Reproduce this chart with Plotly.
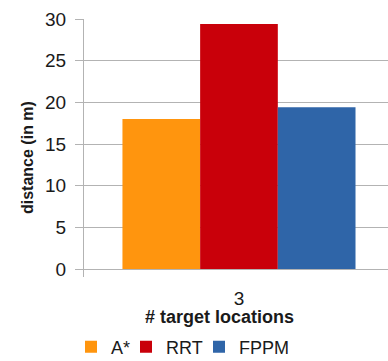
import plotly.graph_objects as go

categories = ["3"]
series_names = ["A*", "RRT", "FPPM"]
a_star = [18.0]
rrt = [29.4]
fppm = [19.4]
y_ticks = [0, 5, 10, 15, 20, 25, 30]

colors = ["#FF950E", "#C9000A", "#2F65A8"]
legend_ids = ["legend", "legend2", "legend3"]
legend_left_px = [71, 126, 199]

W, H = 388, 361
fig = go.Figure()
for name, vals, c, lg in zip(series_names, [a_star, rrt, fppm], colors, legend_ids):
    fig.add_trace(go.Bar(x=categories, y=vals, name=name, legend=lg,
                         marker=dict(color=c, line=dict(width=0))))

legend_common = dict(xref="container", yref="container", xanchor="left",
                     y=(H - 347) / H, yanchor="middle", font=dict(size=18),
                     itemwidth=30, bgcolor="rgba(0,0,0,0)")

fig.update_layout(
    width=W, height=H,
    margin=dict(l=84, r=0, t=19, b=84, autoexpand=False),
    plot_bgcolor="white", paper_bgcolor="white",
    barmode="group", bargap=0.218, bargroupgap=0,
    font=dict(family="Liberation Sans, Arial, sans-serif", color="#1a1a1a"),
    showlegend=True,
    legend=dict(x=legend_left_px[0] / W, **legend_common),
    legend2=dict(x=legend_left_px[1] / W, **legend_common),
    legend3=dict(x=legend_left_px[2] / W, **legend_common),
    xaxis=dict(type="category", range=[-0.52, 0.5], showgrid=False, showline=False,
               ticks="", tickfont=dict(size=19), ticklabelstandoff=8, automargin=False),
    yaxis=dict(range=[-0.96, 30], tickvals=y_ticks, showgrid=True, gridcolor="#b3b3b3",
               gridwidth=1, zeroline=False, showline=True, linecolor="#b3b3b3", linewidth=1,
               ticks="outside", ticklen=8, tickcolor="#b3b3b3", tickfont=dict(size=19),
               ticklabelstandoff=5, automargin=False),
    annotations=[
        dict(text="<b>distance (in m)</b>", xref="paper", yref="paper", x=-84/304 + 27/304,
             y=(277 - 157) / 258, textangle=-90, showarrow=False, font=dict(size=16),
             xanchor="center", yanchor="middle"),
        dict(text="<b># target locations</b>", xref="paper", yref="paper", x=(219 - 84) / 304,
             y=-(317 - 277) / 258, showarrow=False, font=dict(size=18),
             xanchor="center", yanchor="middle"),
    ],
)

fig.write_html("out.html", config={"displayModeBar": False},
               post_script="document.body.style.margin='0';document.body.style.overflow='hidden';")
